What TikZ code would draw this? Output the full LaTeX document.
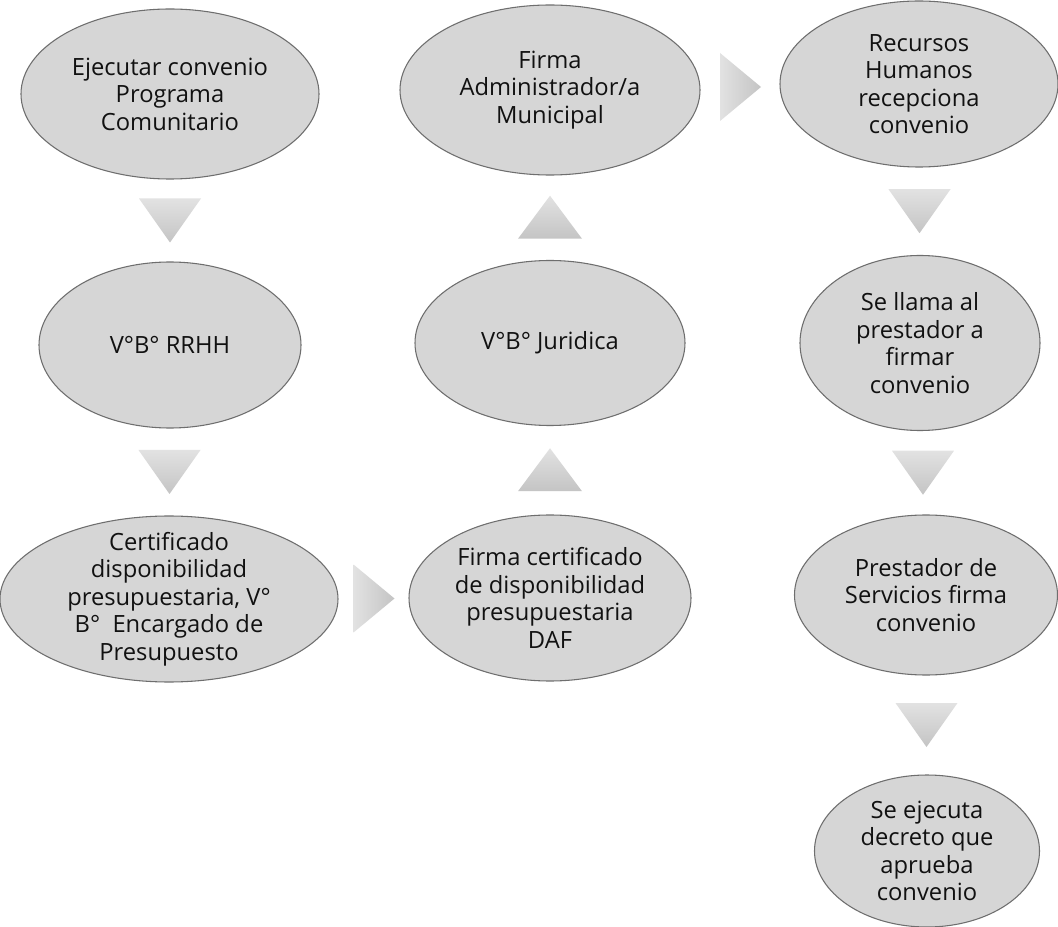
\documentclass[tikz,border=0pt]{standalone}
\usepackage{fontspec}
\setmainfont{Open Sans}
\usetikzlibrary{shapes.geometric,calc}
\definecolor{ellfill}{HTML}{D6D6D6}
\definecolor{ellline}{HTML}{6E6E6E}
\definecolor{txtcol}{HTML}{111111}
\definecolor{arrlight}{HTML}{E2E2E2}
\definecolor{arrdark}{HTML}{C4C4C4}
\begin{document}
\begin{tikzpicture}[x=0.75pt,y=-0.75pt,
  stage/.style 2 args={ellipse, draw=ellline, line width=0.8pt, fill=ellfill,
    inner sep=0pt, minimum width=#1*0.75pt, minimum height=#2*0.75pt},
  stagetext/.style={align=center, text=txtcol, inner sep=0pt,
    font=\fontsize{17.8}{20.6}\selectfont},
  pics/downarr/.style={code={\shade[top color=arrlight,bottom color=arrdark]
    (-31,-22) -- (31,-22) -- (0,22) -- cycle;}},
  pics/uparr/.style={code={\shade[top color=arrlight,bottom color=arrdark]
    (-32,21) -- (32,21) -- (0,-22) -- cycle;}},
  pics/rightarr/.style={code={\shade[left color=arrlight,right color=arrdark]
    (-20,-34) -- (-20,34) -- (21,0) -- cycle;}},
]
\useasboundingbox (0,0) rectangle (1058,927);
\fill[white] (0,0) rectangle (1058,927);

% first column
\node[stage={298}{170}, label={[stagetext]center:Ejecutar convenio\\Programa\\Comunitario}] (e1) at (170,94) {};
\node[stage={262}{166}, label={[stagetext]center:V°B° RRHH}] (e2) at (170,345) {};
\node[stage={338}{166}, label={[stagetext]center:Certificado\\disponibilidad\\presupuestaria, V°\\B°~~Encargado de\\Presupuesto}] (e3) at (169,599) {};

% second column
\node[stage={282}{166}, label={[stagetext]center:Firma certificado\\de disponibilidad\\presupuestaria\\DAF}] (e4) at (550,598) {};
\node[stage={270}{165}, label={[stagetext]center:V°B° Juridica}] (e5) at (550,343) {};
\node[stage={300}{170}, label={[stagetext]center:Firma\\Administrador/a\\Municipal}] (e6) at (550,90) {};

% third column
\node[stage={278}{166}, label={[stagetext]center:Recursos\\Humanos\\recepciona\\convenio}] (e7) at (919,84) {};
\node[stage={240}{175}, label={[stagetext]center:Se llama al\\prestador a\\firmar\\convenio}] (e8) at (920,343) {};
\node[stage={263}{160}, label={[stagetext]center:Prestador de\\Servicios firma\\convenio}] (e9) at (926,595) {};
\node[stage={225}{152}, label={[stagetext]center:Se ejecuta\\decreto que\\aprueba\\convenio}] (e10) at (927,851) {};

% process arrows between the stages
\pic at ($(e1.south)!0.5!(e2.north)$) {downarr};
\pic at ($(e2.south)!0.5!(e3.north)$) {downarr};
\pic at ($(e3.east)!0.5!(e4.west)$) {rightarr};
\pic at ($(e4.north)!0.5!(e5.south)$) {uparr};
\pic at ($(e5.north)!0.5!(e6.south)$) {uparr};
\pic at ($(e6.east)!0.5!(e7.west)$) {rightarr};
\pic at ($(e7.south)!0.5!(e8.north)$) {downarr};
\pic at ($(e8.south)!0.5!(e9.north)$) {downarr};
\pic at ($(e9.south)!0.5!(e10.north)$) {downarr};
\end{tikzpicture}
\end{document}
